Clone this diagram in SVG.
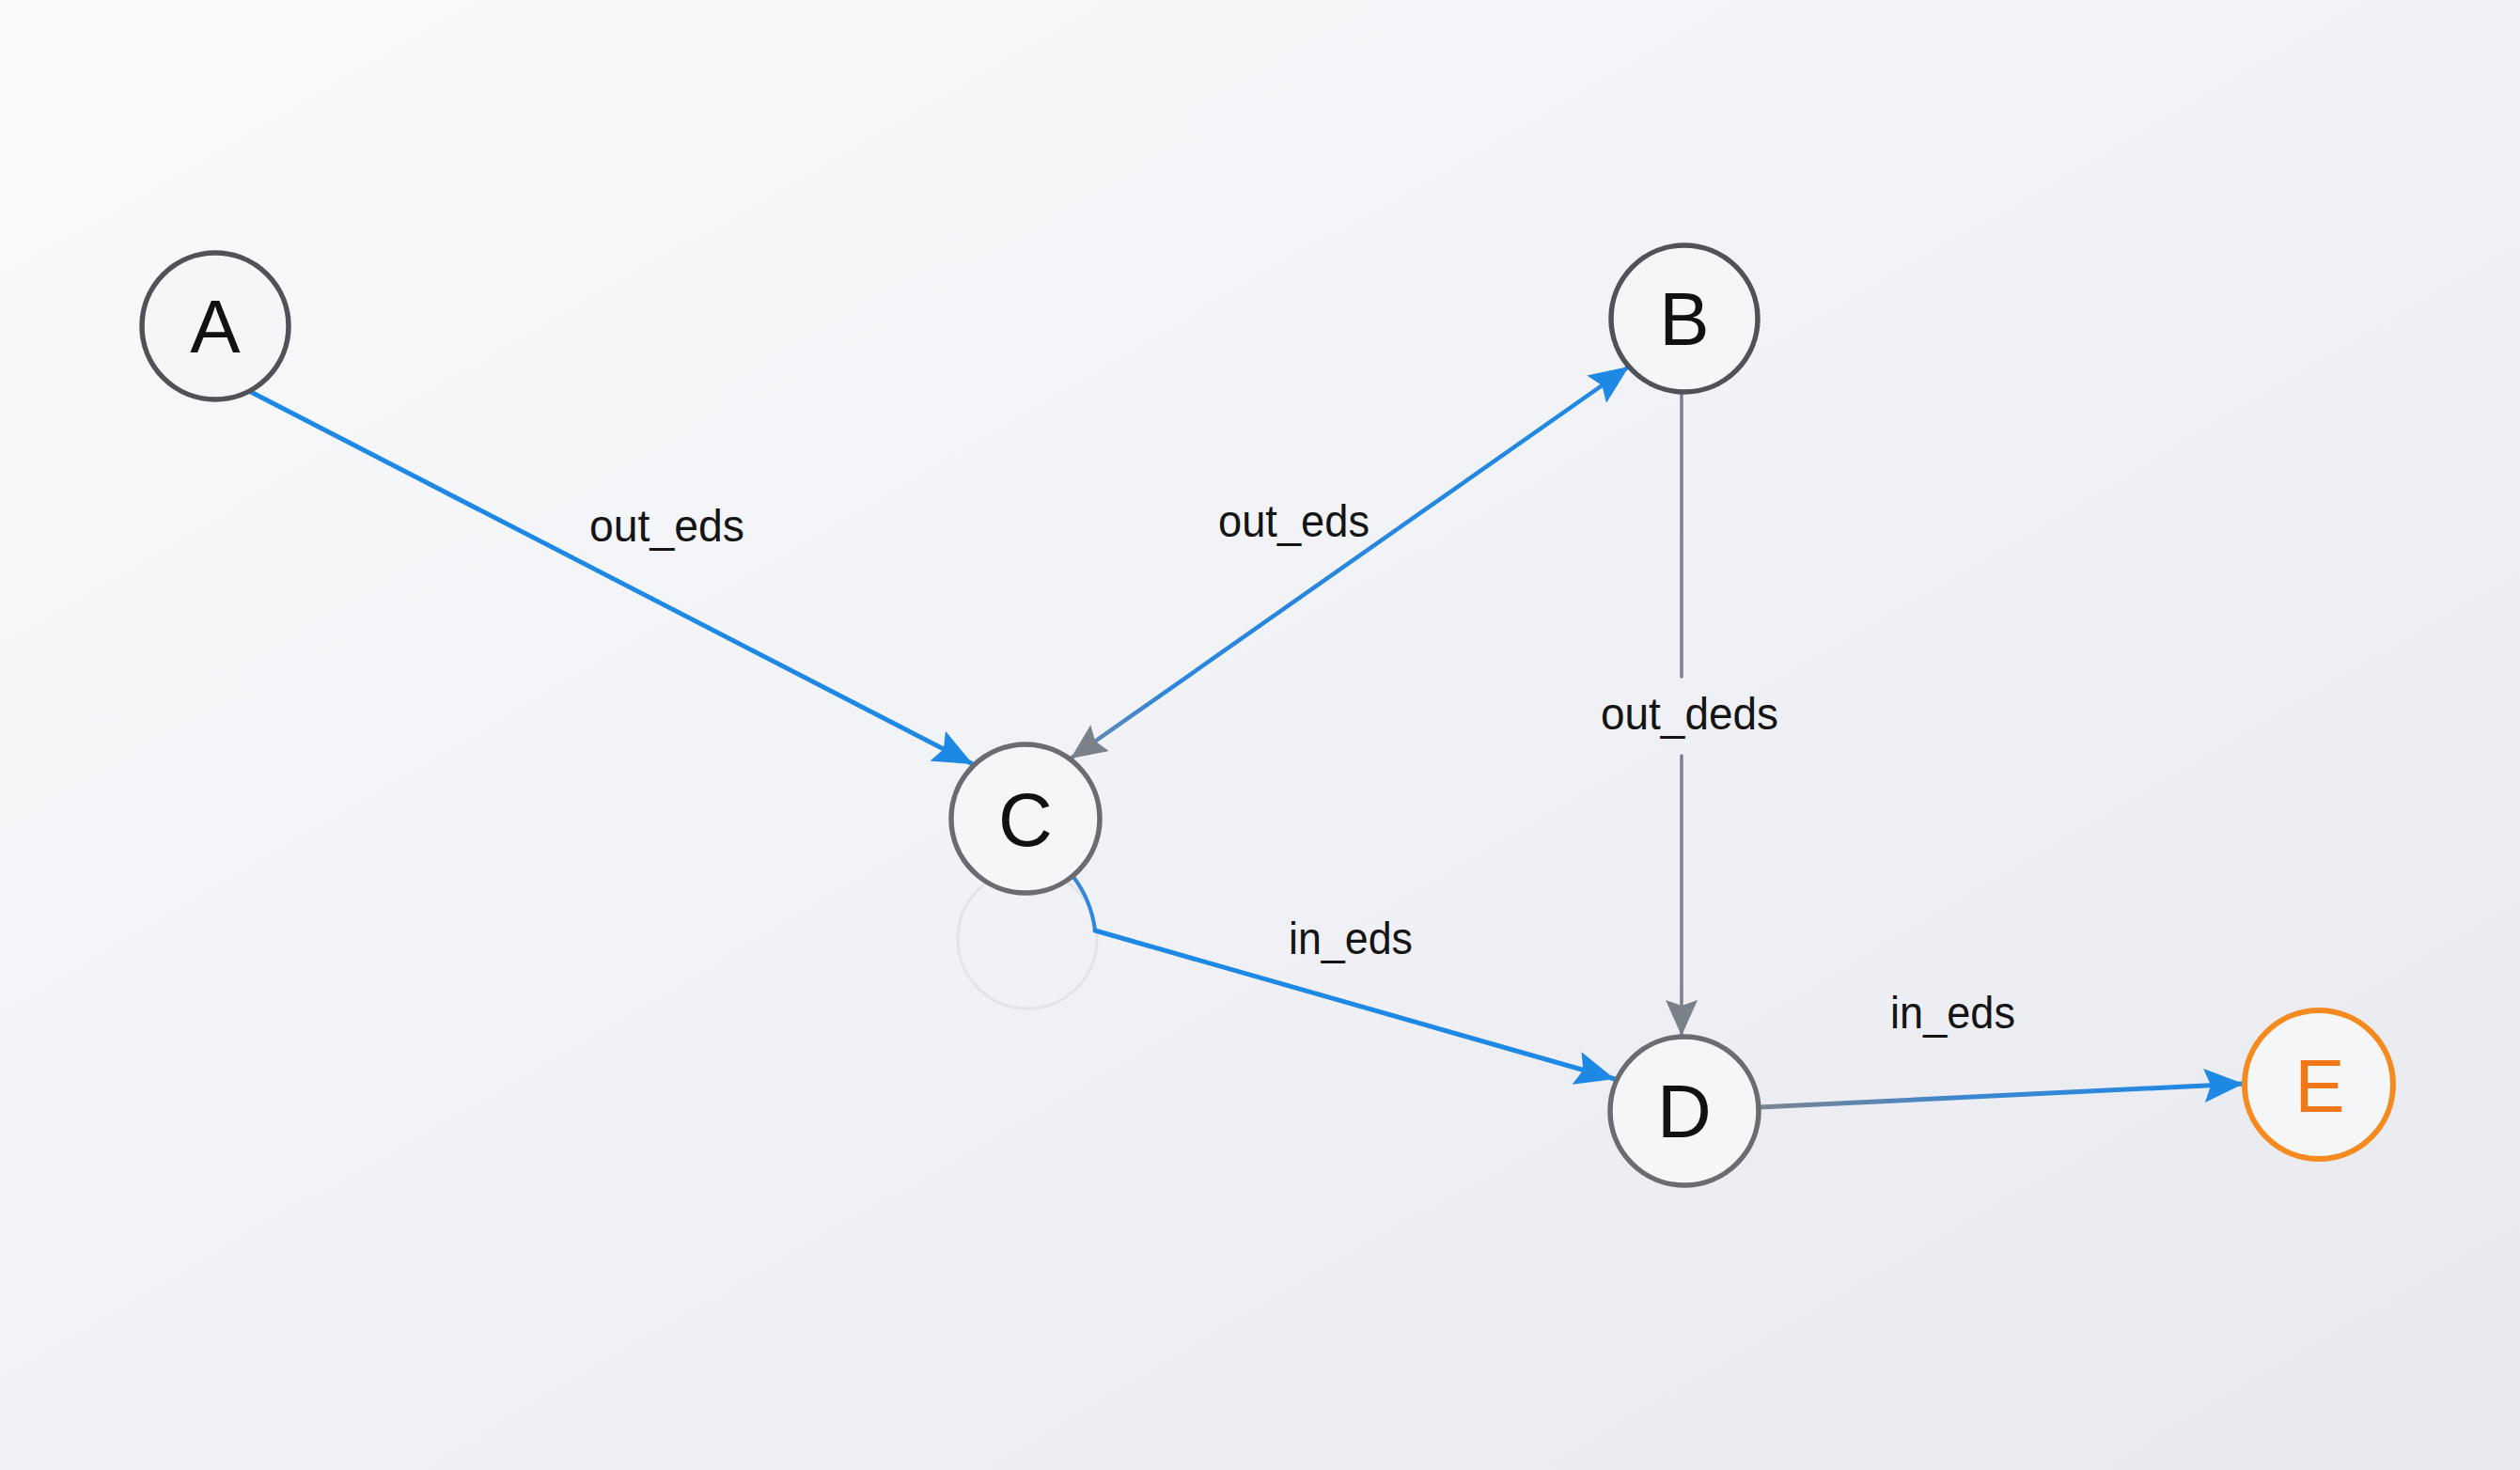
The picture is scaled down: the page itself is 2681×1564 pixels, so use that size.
<svg xmlns="http://www.w3.org/2000/svg" width="2681" height="1564" viewBox="0 0 2681 1564">
  <defs>
    <linearGradient id="bg" x1="0" y1="0" x2="1" y2="1">
      <stop offset="0" stop-color="#f9fafb"/>
      <stop offset="0.5" stop-color="#f1f2f6"/>
      <stop offset="1" stop-color="#e7e9ef"/>
    </linearGradient>
    <linearGradient id="gCB" gradientUnits="userSpaceOnUse" x1="1139" y1="807" x2="1733" y2="390">
      <stop offset="0" stop-color="#6f8aa8"/>
      <stop offset="0.18" stop-color="#2a86dc"/>
      <stop offset="1" stop-color="#1e88e5"/>
    </linearGradient>
    <linearGradient id="gDE" gradientUnits="userSpaceOnUse" x1="1872" y1="1178" x2="2387" y2="1153">
      <stop offset="0" stop-color="#7d8590"/>
      <stop offset="0.45" stop-color="#3a86d2"/>
      <stop offset="1" stop-color="#1e88e5"/>
    </linearGradient>
    <marker id="blue" markerUnits="userSpaceOnUse" viewBox="0 0 42 36" refX="42" refY="18" markerWidth="42" markerHeight="36" orient="auto">
      <path d="M0,0 L42,18 L0,36 L7,18 z" fill="#1e88e5"/>
    </marker>
    <marker id="gray" markerUnits="userSpaceOnUse" viewBox="0 0 38 34" refX="38" refY="17" markerWidth="38" markerHeight="34" orient="auto-start-reverse">
      <path d="M0,0 L38,17 L0,34 L6,17 z" fill="#7b818a"/>
    </marker>
    <style>
      .node circle { fill: #f5f6f8; stroke: #515257; stroke-width: 5.5; }
      .node.light circle { stroke: #6a6c71; }
      .node text { font-family: "Liberation Sans", Arial, sans-serif; font-size: 80px; fill: #111111; text-anchor: middle; }
      .lbl { font-family: "Liberation Sans", Arial, sans-serif; font-size: 49px; fill: #141414; }
      .edge { fill: none; stroke-linecap: round; }
    </style>
  </defs>

  <rect x="0" y="0" width="2681" height="1564" fill="url(#bg)"/>

  <!-- ghost circle below C -->
  <circle cx="1093" cy="999" r="74" fill="none" stroke="#e3e5e9" stroke-width="3"/>

  <g id="connectors">
    <path class="edge" d="M265,416 L1035,813" stroke="#1e88e5" stroke-width="5" marker-end="url(#blue)"/>
    <path class="edge" d="M1139,807 L1733,390" stroke="url(#gCB)" stroke-width="4.5" marker-start="url(#gray)" marker-end="url(#blue)"/>
    <path class="edge" d="M1789,418 L1789,720" stroke="#7b818a" stroke-width="3.5"/>
    <path class="edge" d="M1789,804 L1789,1102" stroke="#7b818a" stroke-width="3.5" marker-end="url(#gray)"/>
    <path class="edge" d="M1142,933 Q1161,958 1165,990" stroke="#2f88dc" stroke-width="4"/>
    <path class="edge" d="M1165,990 L1718,1148" stroke="#1e88e5" stroke-width="5" marker-end="url(#blue)"/>
    <path class="edge" d="M1872,1178 L2387,1153" stroke="url(#gDE)" stroke-width="5" marker-end="url(#blue)"/>
    <text class="lbl" x="627" y="576" textLength="165" lengthAdjust="spacingAndGlyphs">out_eds</text>
    <text class="lbl" x="1296" y="571" textLength="161" lengthAdjust="spacingAndGlyphs">out_eds</text>
    <text class="lbl" x="1703" y="776" textLength="189" lengthAdjust="spacingAndGlyphs">out_deds</text>
    <text class="lbl" x="1371" y="1015" textLength="132" lengthAdjust="spacingAndGlyphs">in_eds</text>
    <text class="lbl" x="2011" y="1094" textLength="133" lengthAdjust="spacingAndGlyphs">in_eds</text>
  </g>

  <g id="node-A" class="node">
    <circle cx="229" cy="347" r="78"/>
    <text x="229" y="375">A</text>
  </g>
  <g id="node-B" class="node">
    <circle cx="1792" cy="339" r="78"/>
    <text x="1792" y="367">B</text>
  </g>
  <g id="node-C" class="node light">
    <circle cx="1091" cy="871" r="79"/>
    <text x="1091" y="900">C</text>
  </g>
  <g id="node-D" class="node light">
    <circle cx="1792" cy="1182" r="79"/>
    <text x="1792" y="1210">D</text>
  </g>
  <g id="node-E" class="node">
    <circle cx="2467" cy="1154" r="79" style="stroke:#f58a1f;stroke-width:6"/>
    <text x="2468" y="1183" style="fill:#f07818">E</text>
  </g>
</svg>
